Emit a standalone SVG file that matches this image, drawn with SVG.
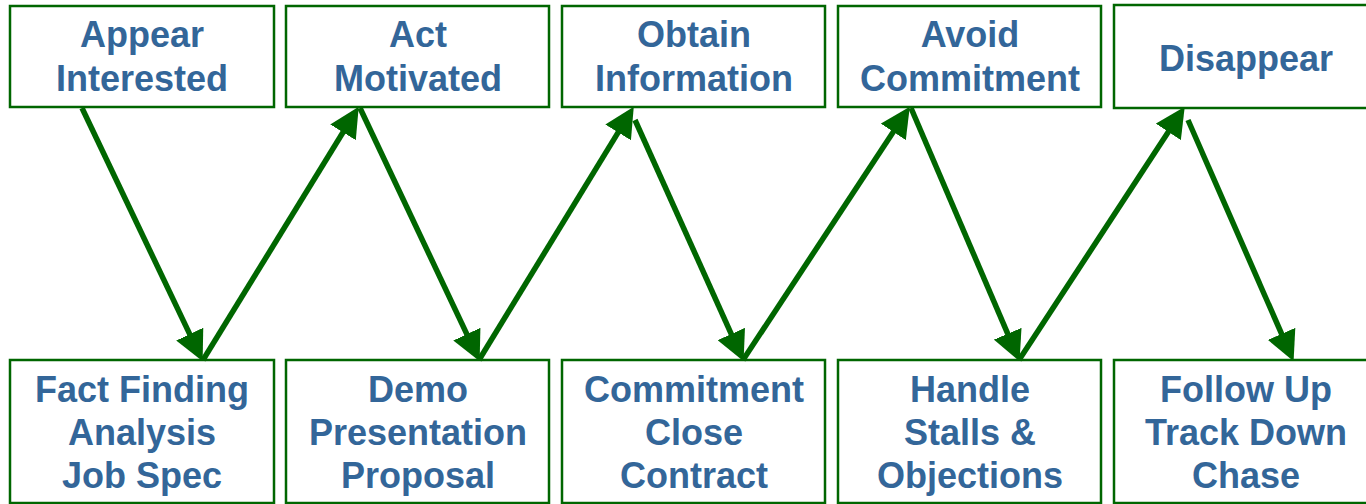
<svg xmlns="http://www.w3.org/2000/svg" width="1366" height="504" viewBox="0 0 1366 504">
  <style>
    .box { fill: #ffffff; stroke: #006600; stroke-width: 2.5; }
    .lbl { font-family: "Liberation Sans", Arial, sans-serif; font-weight: bold; font-size: 36px; fill: #336699; text-anchor: middle; }
    .arrow { fill: none; stroke: #006600; stroke-width: 5.5; marker-end: url(#head); }
  </style>
  <defs>
    <marker id="head" markerUnits="userSpaceOnUse" markerWidth="30" markerHeight="30" viewBox="0 0 28 28" refX="8" refY="14" orient="auto">
      <path d="M0,0 L28,14 L0,28 z" fill="#006600"/>
    </marker>
  </defs>
  <rect width="1366" height="504" fill="#ffffff"/>

  <!-- top row: behaviours -->
  <g id="appear-interested">
    <rect class="box" x="10" y="6" width="264" height="101"/>
    <text class="lbl" x="142" y="47">Appear</text>
    <text class="lbl" x="142" y="91">Interested</text>
  </g>
  <g id="act-motivated">
    <rect class="box" x="286" y="6" width="263" height="101"/>
    <text class="lbl" x="418" y="47">Act</text>
    <text class="lbl" x="418" y="91">Motivated</text>
  </g>
  <g id="obtain-information">
    <rect class="box" x="562" y="6" width="263" height="101"/>
    <text class="lbl" x="694" y="47">Obtain</text>
    <text class="lbl" x="694" y="91">Information</text>
  </g>
  <g id="avoid-commitment">
    <rect class="box" x="838" y="6" width="263" height="101"/>
    <text class="lbl" x="970" y="47">Avoid</text>
    <text class="lbl" x="970" y="91">Commitment</text>
  </g>
  <g id="disappear">
    <rect class="box" x="1114" y="5" width="264" height="103"/>
    <text class="lbl" x="1246" y="71">Disappear</text>
  </g>

  <!-- bottom row: sales stages -->
  <g id="fact-finding">
    <rect class="box" x="10" y="360" width="264" height="143"/>
    <text class="lbl" x="142" y="402">Fact Finding</text>
    <text class="lbl" x="142" y="445">Analysis</text>
    <text class="lbl" x="142" y="488">Job Spec</text>
  </g>
  <g id="demo">
    <rect class="box" x="286" y="360" width="263" height="143"/>
    <text class="lbl" x="418" y="402">Demo</text>
    <text class="lbl" x="418" y="445">Presentation</text>
    <text class="lbl" x="418" y="488">Proposal</text>
  </g>
  <g id="commitment">
    <rect class="box" x="562" y="360" width="263" height="143"/>
    <text class="lbl" x="694" y="402">Commitment</text>
    <text class="lbl" x="694" y="445">Close</text>
    <text class="lbl" x="694" y="488">Contract</text>
  </g>
  <g id="handle-stalls">
    <rect class="box" x="838" y="360" width="263" height="143"/>
    <text class="lbl" x="970" y="402">Handle</text>
    <text class="lbl" x="970" y="445">Stalls &amp;</text>
    <text class="lbl" x="970" y="488">Objections</text>
  </g>
  <g id="follow-up">
    <rect class="box" x="1114" y="360" width="264" height="143"/>
    <text class="lbl" x="1246" y="402">Follow Up</text>
    <text class="lbl" x="1246" y="445">Track Down</text>
    <text class="lbl" x="1246" y="488">Chase</text>
  </g>

  <!-- zig-zag connectors; each path stops 20px short of its arrow tip -->
  <g id="connectors">
    <path class="arrow" d="M82,108 L193.4,341.9"/>
    <path class="arrow" d="M203,360 L347.5,125"/>
    <path class="arrow" d="M360,108 L470.5,341.9"/>
    <path class="arrow" d="M479,360 L622.6,125.1"/>
    <path class="arrow" d="M635,120 L734.8,341.8"/>
    <path class="arrow" d="M743,360 L898,124.7"/>
    <path class="arrow" d="M911,108 L1011.1,341.6"/>
    <path class="arrow" d="M1019,360 L1173,124.7"/>
    <path class="arrow" d="M1188,120 L1285,341.7"/>
  </g>
</svg>
